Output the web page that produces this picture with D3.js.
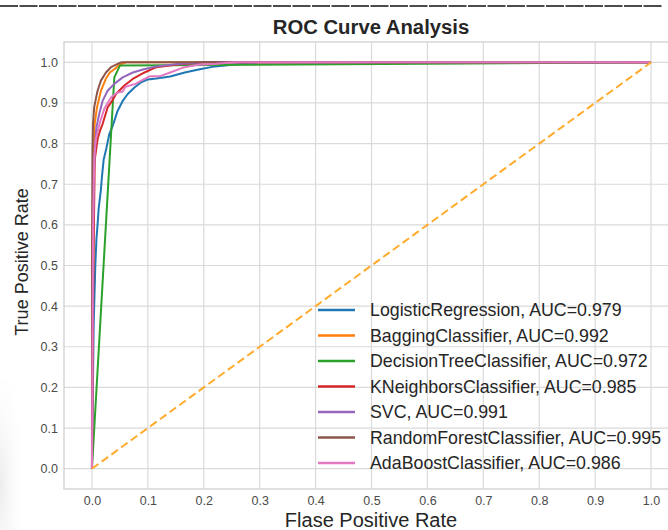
<!DOCTYPE html>
<html>
<head>
<meta charset="utf-8">
<script src="https://cdn.jsdelivr.net/npm/d3@7"></script>
<style>
  body { margin: 0; background: #fff; }
  #chart { width: 668px; height: 530px; }
</style>
</head>
<body>
<div id="chart"></div>
<script>
// ROC points [fpr, tpr]
const logisticRegression = [[0,0],[0.003,0.35],[0.006,0.5],[0.008,0.564],[0.010,0.6],[0.012,0.64],[0.016,0.687],[0.018,0.72],[0.021,0.761],[0.026,0.79],[0.031,0.823],[0.036,0.84],[0.040,0.856],[0.046,0.881],[0.055,0.905],[0.064,0.922],[0.076,0.938],[0.088,0.951],[0.100,0.958],[0.115,0.960],[0.140,0.965],[0.166,0.975],[0.193,0.983],[0.220,0.990],[0.260,0.995],[0.300,1.0],[1,1]];
const baggingClassifier = [[0,0],[0.001,0.5],[0.003,0.8],[0.005,0.85],[0.009,0.889],[0.016,0.93],[0.025,0.96],[0.032,0.975],[0.040,0.983],[0.049,0.994],[0.061,1.0],[1,1]];
const decisionTree = [[0,0],[0.040,0.963],[0.050,0.992],[1,1]];
const kNeighbors = [[0,0],[0.002,0.4],[0.004,0.65],[0.005,0.76],[0.008,0.79],[0.010,0.81],[0.014,0.83],[0.019,0.848],[0.028,0.889],[0.036,0.905],[0.043,0.922],[0.058,0.943],[0.073,0.959],[0.094,0.975],[0.115,0.988],[0.150,0.994],[0.200,1.0],[1,1]];
const svc = [[0,0],[0.001,0.4],[0.003,0.7],[0.005,0.79],[0.008,0.84],[0.013,0.873],[0.019,0.905],[0.028,0.93],[0.040,0.947],[0.055,0.963],[0.073,0.975],[0.093,0.983],[0.115,0.99],[0.150,0.995],[0.200,1.0],[1,1]];
const randomForest = [[0,0],[0,0.5],[0.001,0.79],[0.002,0.85],[0.004,0.889],[0.007,0.91],[0.010,0.93],[0.016,0.955],[0.025,0.975],[0.034,0.988],[0.046,0.996],[0.052,1.0],[1,1]];
const adaBoost = [[0,0],[0.001,0.3],[0.002,0.6],[0.004,0.76],[0.007,0.81],[0.012,0.84],[0.016,0.86],[0.022,0.885],[0.028,0.90],[0.035,0.915],[0.045,0.925],[0.055,0.928],[0.060,0.94],[0.078,0.947],[0.090,0.956],[0.104,0.966],[0.122,0.966],[0.140,0.975],[0.163,0.987],[0.190,0.994],[0.220,0.996],[0.250,1.0],[1,1]];

const modelNames = ["LogisticRegression", "BaggingClassifier", "DecisionTreeClassifier", "KNeighborsClassifier", "SVC", "RandomForestClassifier", "AdaBoostClassifier"];
const aucValues = [0.979, 0.992, 0.972, 0.985, 0.991, 0.995, 0.986];
const modelCurves = [logisticRegression, baggingClassifier, decisionTree, kNeighbors, svc, randomForest, adaBoost];
const modelColors = ["#1f77b4", "#ff7f0e", "#2ca02c", "#d62728", "#9467bd", "#8c564b", "#e377c2"];
const chanceLine = [[0,0],[1,1]];
const xTicks = [0,0.1,0.2,0.3,0.4,0.5,0.6,0.7,0.8,0.9,1.0];
const yTicks = [0,0.1,0.2,0.3,0.4,0.5,0.6,0.7,0.8,0.9,1.0];

class RocChart {
  constructor(element, width, height) {
    this.element = element;
    this.width = width;
    this.height = height;
    this.font = "'Liberation Sans', Arial, sans-serif";
    this.x = d3.scaleLinear().domain([-0.05, 1.05]).range([64, 679]);
    this.y = d3.scaleLinear().domain([-0.05, 1.05]).range([489, 42]);
  }

  render() {
    var _self = this;
    var x = _self.x, y = _self.y;
    _self.svg = d3.select(_self.element).append("svg")
      .attr("width", _self.width).attr("height", _self.height)
      .style("font-family", _self.font);

    //faint smudge on the left edge
    var defs = _self.svg.append("defs");
    var grad = defs.append("radialGradient").attr("id", "smudge")
      .attr("cx", "0%").attr("cy", "70%").attr("r", "90%");
    grad.append("stop").attr("offset", "0%").attr("stop-color", "#ececec");
    grad.append("stop").attr("offset", "100%").attr("stop-color", "#ffffff").attr("stop-opacity", 0);
    _self.svg.append("rect").attr("x", 0).attr("y", 380).attr("width", 30).attr("height", 150)
      .attr("fill", "url(#smudge)");

    //separator line at the very top
    _self.svg.append("line").attr("x1", 0).attr("x2", 662).attr("y1", 6).attr("y2", 6)
      .attr("stroke", "#111").attr("stroke-width", 1.4).attr("stroke-dasharray", "18,1.5");

    //grid
    var grid = _self.svg.append("g");
    grid.selectAll(".vgrid").data(xTicks).enter().append("line")
      .attr("x1", d => x(d)).attr("x2", d => x(d)).attr("y1", y.range()[1]).attr("y2", y.range()[0])
      .attr("stroke", "#dadada").attr("stroke-width", 1.2);
    grid.selectAll(".hgrid").data(yTicks).enter().append("line")
      .attr("x1", x.range()[0]).attr("x2", x.range()[1]).attr("y1", d => y(d)).attr("y2", d => y(d))
      .attr("stroke", "#dadada").attr("stroke-width", 1.2);

    //frame
    _self.svg.append("rect")
      .attr("x", x.range()[0]).attr("y", y.range()[1])
      .attr("width", x.range()[1] - x.range()[0]).attr("height", y.range()[0] - y.range()[1])
      .attr("fill", "none").attr("stroke", "#cfcfcf").attr("stroke-width", 1.3);

    //axes
    var xAxis = _self.svg.append("g").attr("transform", "translate(0," + y.range()[0] + ")")
      .call(d3.axisBottom(x).tickValues(xTicks).tickSize(0).tickPadding(7).tickFormat(d3.format(".1f")));
    var yAxis = _self.svg.append("g").attr("transform", "translate(" + x.range()[0] + ",0)")
      .call(d3.axisLeft(y).tickValues(yTicks).tickSize(0).tickPadding(6).tickFormat(d3.format(".1f")));
    [xAxis, yAxis].forEach(function (a) {
      a.select(".domain").remove();
      a.selectAll("text").attr("fill", "#4a4a4a").style("font-size", "12.5px").style("font-family", _self.font);
    });

    //curves
    var line = d3.line().x(d => x(d[0])).y(d => y(d[1]));
    _self.svg.append("g").selectAll("path").data(modelCurves).enter().append("path")
      .attr("d", line)
      .attr("fill", "none")
      .attr("stroke", (d, i) => modelColors[i])
      .attr("stroke-width", 2)
      .attr("stroke-linejoin", "round");

    _self.svg.append("path").datum(chanceLine)
      .attr("d", line).attr("fill", "none")
      .attr("stroke", "#ffab2e").attr("stroke-width", 2).attr("stroke-dasharray", "8,4");

    //legend
    var legend = _self.svg.append("g").selectAll("g").data(modelNames).enter().append("g")
      .attr("transform", (d, i) => "translate(318," + (310 + i * 25.5) + ")");
    legend.append("line").attr("x1", 0).attr("x2", 37).attr("y1", 0).attr("y2", 0)
      .attr("stroke", (d, i) => modelColors[i]).attr("stroke-width", 2.5);
    legend.append("text").attr("x", 52).attr("y", 0).attr("dy", "0.35em")
      .attr("fill", "#262626").style("font-size", "17.8px")
      .text((d, i) => d + ", AUC=" + aucValues[i].toFixed(3));

    //titles
    _self.svg.append("text").attr("x", 371).attr("y", 34).attr("text-anchor", "middle")
      .attr("fill", "#262626").style("font-size", "20.3px").style("font-weight", "bold")
      .text("ROC Curve Analysis");
    _self.svg.append("text").attr("x", 371).attr("y", 527).attr("text-anchor", "middle")
      .attr("fill", "#262626").style("font-size", "20px")
      .text("Flase Positive Rate");
    _self.svg.append("text").attr("transform", "translate(28,262) rotate(-90)").attr("text-anchor", "middle")
      .attr("fill", "#262626").style("font-size", "18px")
      .text("True Positive Rate");
  }
}

new RocChart(document.getElementById("chart"), 668, 530).render();
</script>
</body>
</html>
